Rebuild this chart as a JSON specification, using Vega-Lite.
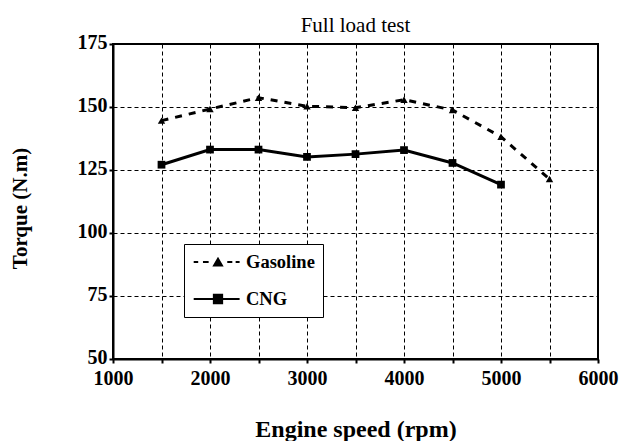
{
  "$schema": "https://vega.github.io/schema/vega-lite/v6.json",
  "width": 485,
  "height": 315,
  "autosize": "none",
  "padding": {"left": 113, "top": 44, "right": 29, "bottom": 82},
  "background": "white",
  "config": {
    "font": "Liberation Serif",
    "view": {"stroke": "black", "strokeWidth": 2},
    "axis": {
      "grid": true,
      "gridColor": "black",
      "gridDash": [4, 3],
      "gridWidth": 1,
      "gridOpacity": 1,
      "domainColor": "black",
      "domainWidth": 2,
      "tickColor": "black",
      "tickWidth": 2,
      "tickSize": 4,
      "labelFont": "Liberation Serif",
      "labelFontSize": 20,
      "labelFontWeight": "bold",
      "labelColor": "black",
      "titleFont": "Liberation Serif",
      "titleFontSize": 21,
      "titleFontWeight": "bold",
      "titleColor": "black"
    }
  },
  "title": {
    "text": "Full load test",
    "font": "Liberation Serif",
    "fontSize": 21,
    "fontWeight": "normal",
    "color": "black",
    "anchor": "middle",
    "offset": -4
  },
  "data": {
    "values": [
      {"rpm": 1500, "torque": 144.6, "fuel": "Gasoline"},
      {"rpm": 2000, "torque": 149.2, "fuel": "Gasoline"},
      {"rpm": 2500, "torque": 153.7, "fuel": "Gasoline"},
      {"rpm": 3000, "torque": 150.3, "fuel": "Gasoline"},
      {"rpm": 3500, "torque": 149.7, "fuel": "Gasoline"},
      {"rpm": 4000, "torque": 152.9, "fuel": "Gasoline"},
      {"rpm": 4500, "torque": 148.8, "fuel": "Gasoline"},
      {"rpm": 5000, "torque": 138.2, "fuel": "Gasoline"},
      {"rpm": 5500, "torque": 121.4, "fuel": "Gasoline"},
      {"rpm": 1500, "torque": 127.1, "fuel": "CNG"},
      {"rpm": 2000, "torque": 133.1, "fuel": "CNG"},
      {"rpm": 2500, "torque": 133.1, "fuel": "CNG"},
      {"rpm": 3000, "torque": 130.2, "fuel": "CNG"},
      {"rpm": 3500, "torque": 131.3, "fuel": "CNG"},
      {"rpm": 4000, "torque": 132.9, "fuel": "CNG"},
      {"rpm": 4500, "torque": 127.8, "fuel": "CNG"},
      {"rpm": 5000, "torque": 119.2, "fuel": "CNG"}
    ]
  },
  "encoding": {
    "x": {
      "field": "rpm",
      "type": "quantitative",
      "scale": {"domain": [1000, 6000], "nice": false, "zero": false},
      "axis": {
        "values": [1000, 1500, 2000, 2500, 3000, 3500, 4000, 4500, 5000, 5500, 6000],
        "labelExpr": "datum.value % 1000 == 0 ? datum.label : ''",
        "format": "d",
        "labelPadding": 5,
        "labelFlush": false,
        "labelOverlap": false,
        "title": "Engine speed (rpm)",
        "titleFontSize": 24,
        "titleX": 242.5,
        "titleY": 70,
        "titleBaseline": "middle",
        "titleAnchor": "middle"
      }
    },
    "y": {
      "field": "torque",
      "type": "quantitative",
      "scale": {"domain": [50, 175], "nice": false, "zero": false},
      "axis": {
        "values": [50, 75, 100, 125, 150, 175],
        "labelPadding": 2,
        "labelOffset": -2,
        "labelFlush": false,
        "labelOverlap": false,
        "title": "Torque (N.m)",
        "titleX": -93,
        "titleY": 164,
        "titleAngle": -90,
        "titleBaseline": "middle",
        "titleAnchor": "middle"
      }
    }
  },
  "layer": [
    {
      "transform": [{"filter": "datum.fuel === 'Gasoline'"}],
      "mark": {"type": "line", "color": "black", "strokeWidth": 3, "strokeDash": [7, 7]}
    },
    {
      "transform": [{"filter": "datum.fuel === 'CNG'"}],
      "mark": {"type": "line", "color": "black", "strokeWidth": 3}
    },
    {
      "transform": [{"filter": "datum.fuel === 'Gasoline'"}],
      "mark": {"type": "point", "shape": "triangle-up", "filled": true, "color": "black", "opacity": 1, "size": 55}
    },
    {
      "transform": [{"filter": "datum.fuel === 'CNG'"}],
      "mark": {"type": "point", "shape": "square", "filled": true, "color": "black", "opacity": 1, "size": 60}
    },
    {
      "transform": [{"filter": "false"}],
      "mark": {"type": "point", "filled": true, "color": "black", "opacity": 1},
      "encoding": {
        "shape": {
          "field": "fuel",
          "type": "nominal",
          "scale": {
            "domain": ["Gasoline", "CNG"],
            "range": [
              "M-2.7,-0.12L-2.2,-0.12L-2.2,0.12L-2.7,0.12ZM-1.67,-0.12L-1.04,-0.12L-1.04,0.12L-1.67,0.12ZM0,-0.58L0.63,0.5L-0.63,0.5ZM1.03,-0.12L1.59,-0.12L1.59,0.12L1.03,0.12ZM1.96,-0.12L2.4,-0.12L2.4,0.12L1.96,0.12Z",
              "M-2.7,-0.12L2.4,-0.12L2.4,0.12L-2.7,0.12ZM-0.57,-0.57L0.57,-0.57L0.57,0.57L-0.57,0.57Z"
            ]
          },
          "legend": {
            "orient": "none",
            "legendX": 71,
            "legendY": 200,
            "title": null,
            "strokeColor": "black",
            "fillColor": "white",
            "padding": 8,
            "rowPadding": 17,
            "symbolSize": 324,
            "symbolOffset": 16,
            "symbolFillColor": "black",
            "symbolOpacity": 1,
            "labelFont": "Liberation Serif",
            "labelFontSize": 18.5,
            "labelFontWeight": "bold",
            "labelColor": "black",
            "labelOffset": 18,
            "encode": {
              "legend": {"update": {"strokeWidth": {"value": 2}}}
            }
          }
        }
      }
    }
  ]
}
